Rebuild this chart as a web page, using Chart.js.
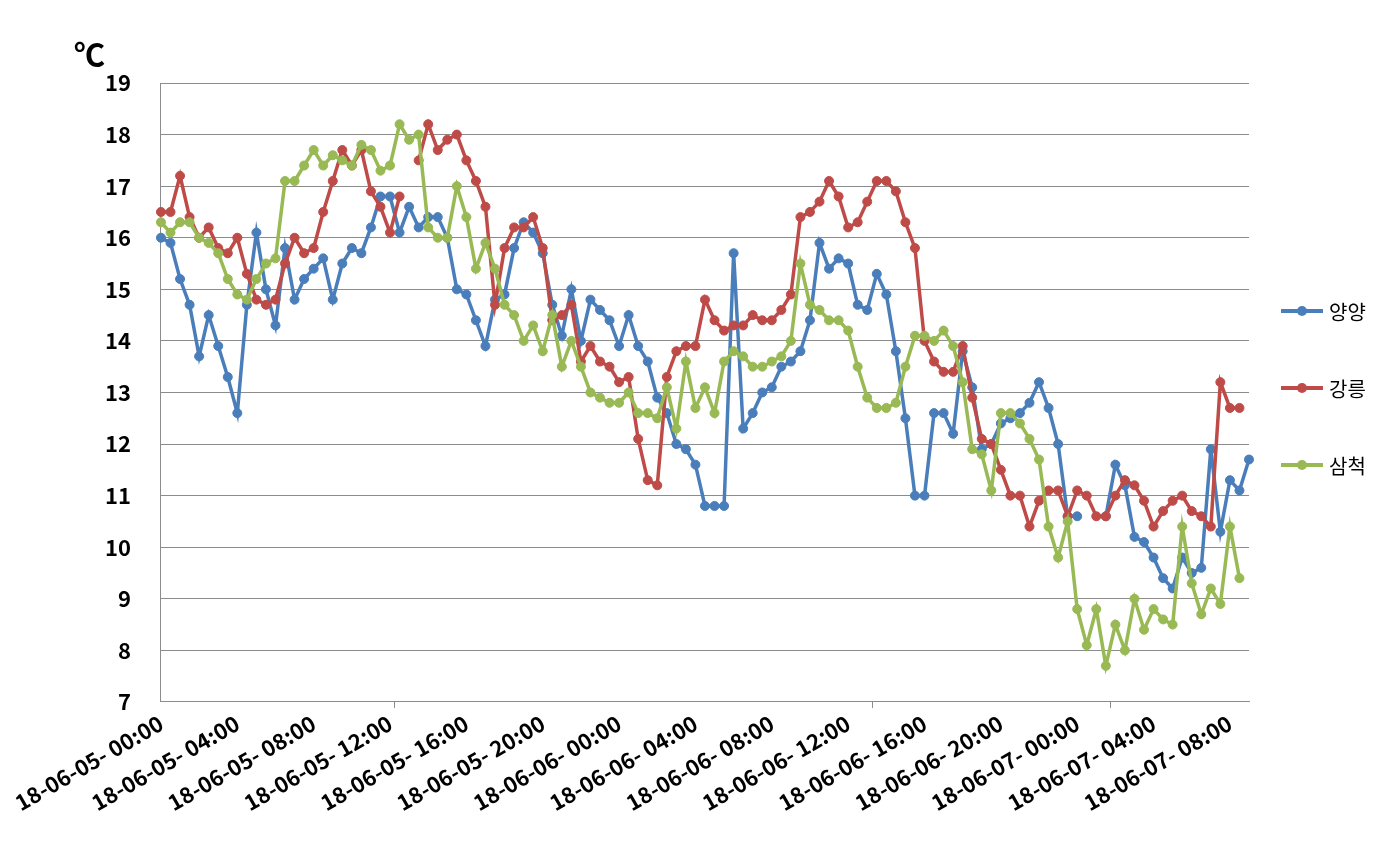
<!DOCTYPE html>
<html>
<head>
<meta charset="utf-8">
<script src="https://cdn.jsdelivr.net/npm/chart.js@4.4.1/dist/chart.umd.min.js"></script>
<style>
  html, body { margin: 0; padding: 0; background: #fff; }
  #wrap { position: relative; width: 1396px; height: 863px; }
  #legend { position: absolute; left: 1281px; top: 0; font-family: "Noto Sans CJK KR", sans-serif; font-size: 20px; color: #000; }
  .item { position: absolute; left: 0; width: 110px; height: 24px; display: flex; align-items: center; white-space: nowrap; }
  .mark { position: relative; width: 42px; height: 4px; margin-right: 6px; }
  .mark i { position: absolute; left: 16px; top: -3px; width: 10px; height: 10px; border-radius: 50%; }
</style>
</head>
<body>
<div id="wrap">
  <canvas id="tempChart" width="1396" height="863"></canvas>
  <div id="legend"></div>
</div>
<script>
const days = ["18-06-05", "18-06-06", "18-06-07"];
const seriesNames = ["양양", "강릉", "삼척"];
const seriesColors = ["#4A7EBB", "#BE4B48", "#98B954"];

// 30분 간격 측정값 (℃)
const yangyang = [
  16.0, 15.9, 15.2, 14.7, 13.7, 14.5, 13.9, 13.3, 12.6, 14.7, 16.1, 15.0, 14.3, 15.8, 14.8, 15.2,
  15.4, 15.6, 14.8, 15.5, 15.8, 15.7, 16.2, 16.8, 16.8, 16.1, 16.6, 16.2, 16.4, 16.4, 16.0, 15.0,
  14.9, 14.4, 13.9, 14.8, 14.9, 15.8, 16.3, 16.1, 15.7, 14.7, 14.1, 15.0, 14.0, 14.8, 14.6, 14.4,
  13.9, 14.5, 13.9, 13.6, 12.9, 12.6, 12.0, 11.9, 11.6, 10.8, 10.8, 10.8, 15.7, 12.3, 12.6, 13.0,
  13.1, 13.5, 13.6, 13.8, 14.4, 15.9, 15.4, 15.6, 15.5, 14.7, 14.6, 15.3, 14.9, 13.8, 12.5, 11.0,
  11.0, 12.6, 12.6, 12.2, 13.8, 13.1, 11.9, 12.0, 12.4, 12.5, 12.6, 12.8, 13.2, 12.7, 12.0, 10.6,
  10.6, null, null, 10.6, 11.6, 11.2, 10.2, 10.1, 9.8, 9.4, 9.2, 9.8, 9.5, 9.6, 11.9, 10.3,
  11.3, 11.1, 11.7
];
const gangneung = [
  16.5, 16.5, 17.2, 16.4, 16.0, 16.2, 15.8, 15.7, 16.0, 15.3, 14.8, 14.7, 14.8, 15.5, 16.0, 15.7,
  15.8, 16.5, 17.1, 17.7, 17.4, 17.7, 16.9, 16.6, 16.1, 16.8, null, 17.5, 18.2, 17.7, 17.9, 18.0,
  17.5, 17.1, 16.6, 14.7, 15.8, 16.2, 16.2, 16.4, 15.8, 14.4, 14.5, 14.7, 13.6, 13.9, 13.6, 13.5,
  13.2, 13.3, 12.1, 11.3, 11.2, 13.3, 13.8, 13.9, 13.9, 14.8, 14.4, 14.2, 14.3, 14.3, 14.5, 14.4,
  14.4, 14.6, 14.9, 16.4, 16.5, 16.7, 17.1, 16.8, 16.2, 16.3, 16.7, 17.1, 17.1, 16.9, 16.3, 15.8,
  14.0, 13.6, 13.4, 13.4, 13.9, 12.9, 12.1, 12.0, 11.5, 11.0, 11.0, 10.4, 10.9, 11.1, 11.1, 10.6,
  11.1, 11.0, 10.6, 10.6, 11.0, 11.3, 11.2, 10.9, 10.4, 10.7, 10.9, 11.0, 10.7, 10.6, 10.4, 13.2,
  12.7, 12.7, null
];
const samcheok = [
  16.3, 16.1, 16.3, 16.3, 16.0, 15.9, 15.7, 15.2, 14.9, 14.8, 15.2, 15.5, 15.6, 17.1, 17.1, 17.4,
  17.7, 17.4, 17.6, 17.5, 17.4, 17.8, 17.7, 17.3, 17.4, 18.2, 17.9, 18.0, 16.2, 16.0, 16.0, 17.0,
  16.4, 15.4, 15.9, 15.4, 14.7, 14.5, 14.0, 14.3, 13.8, 14.5, 13.5, 14.0, 13.5, 13.0, 12.9, 12.8,
  12.8, 13.0, 12.6, 12.6, 12.5, 13.1, 12.3, 13.6, 12.7, 13.1, 12.6, 13.6, 13.8, 13.7, 13.5, 13.5,
  13.6, 13.7, 14.0, 15.5, 14.7, 14.6, 14.4, 14.4, 14.2, 13.5, 12.9, 12.7, 12.7, 12.8, 13.5, 14.1,
  14.1, 14.0, 14.2, 13.9, 13.2, 11.9, 11.8, 11.1, 12.6, 12.6, 12.4, 12.1, 11.7, 10.4, 9.8, 10.5,
  8.8, 8.1, 8.8, 7.7, 8.5, 8.0, 9.0, 8.4, 8.8, 8.6, 8.5, 10.4, 9.3, 8.7, 9.2, 8.9,
  10.4, 9.4, null
];

// x축 카테고리: 18-06-05 00:00 부터 30분 간격
const labels = [];
for (let i = 0; i < yangyang.length; i++) {
    const day = days[Math.floor(i / 48)];
    const hh = String(Math.floor((i % 48) / 2)).padStart(2, "0");
    const mm = i % 2 ? "30" : "00";
    labels.push(day + "- " + hh + ":" + mm);
}

const allSeries = [yangyang, gangneung, samcheok];
const axisFont = { family: "'Noto Sans CJK KR', 'Noto Sans', sans-serif", size: 22, weight: "bold" };

// ℃ 단위 표시
const unitLabel = {
    id: "unitLabel",
    afterDraw(chart) {
        const ctx = chart.ctx;
        ctx.save();
        ctx.font = "bold 31px 'Noto Sans CJK KR', sans-serif";
        ctx.fillStyle = "#000";
        ctx.textBaseline = "alphabetic";
        ctx.fillText("℃", 74, 66);
        ctx.restore();
    }
};

const ctx = document.getElementById("tempChart").getContext("2d");
const tempChart = new Chart(ctx, {
    type: "line",
    data: {
        labels: labels,
        datasets: allSeries.map((data, k) => ({
            label: seriesNames[k],
            data: data,
            borderColor: seriesColors[k],
            backgroundColor: seriesColors[k],
            pointBackgroundColor: seriesColors[k],
            pointBorderColor: seriesColors[k],
            borderWidth: 3.5,
            pointRadius: 4.5,
            pointBorderWidth: 1,
            tension: 0,
            spanGaps: false,
            order: 2 - k
        }))
    },
    options: {
        responsive: false,
        animation: false,
        // y축 폭은 라벨 + padding*2 로 잡히므로 왼쪽 여백을 그만큼 줄임
        layout: { padding: { left: 75, right: 147, top: 83, bottom: 45 } },
        plugins: {
            legend: { display: false },
            tooltip: { enabled: false }
        },
        scales: {
            x: {
                offset: false,
                border: { display: true, color: "#8c8c8c", width: 1 },
                grid: {
                    display: true,
                    drawOnChartArea: false,
                    offset: true,
                    tickLength: 6,
                    color: c => [25, 75, 100].includes(c.index) ? "#8c8c8c" : "rgba(0,0,0,0)"
                },
                ticks: {
                    autoSkip: false,
                    minRotation: 30,
                    maxRotation: 30,
                    padding: 2,
                    color: "#000",
                    font: axisFont,
                    callback: function (value, index) {
                        return index % 8 === 0 ? labels[index] : "";
                    }
                },
                afterFit: function (scale) {
                    // 첫 라벨이 왼쪽 여백을 밀어내지 않도록
                    scale.paddingLeft = 0;
                }
            },
            y: {
                min: 7,
                max: 19,
                border: { display: true, color: "#8c8c8c", width: 1 },
                grid: { color: "#8c8c8c", lineWidth: 1, tickLength: 0 },
                ticks: {
                    stepSize: 1,
                    padding: 30,
                    color: "#000",
                    font: axisFont
                }
            }
        }
    },
    plugins: [unitLabel]
});

// 범례
const legend = document.getElementById("legend");
const legendTops = [311, 388, 465];
seriesNames.forEach((name, k) => {
    const item = document.createElement("div");
    item.className = "item";
    item.style.top = (legendTops[k] - 12) + "px";
    item.innerHTML = '<span class="mark" style="background:' + seriesColors[k] + '"><i style="background:' +
        seriesColors[k] + '"></i></span><span>' + name + '</span>';
    legend.appendChild(item);
});
</script>
</body>
</html>
